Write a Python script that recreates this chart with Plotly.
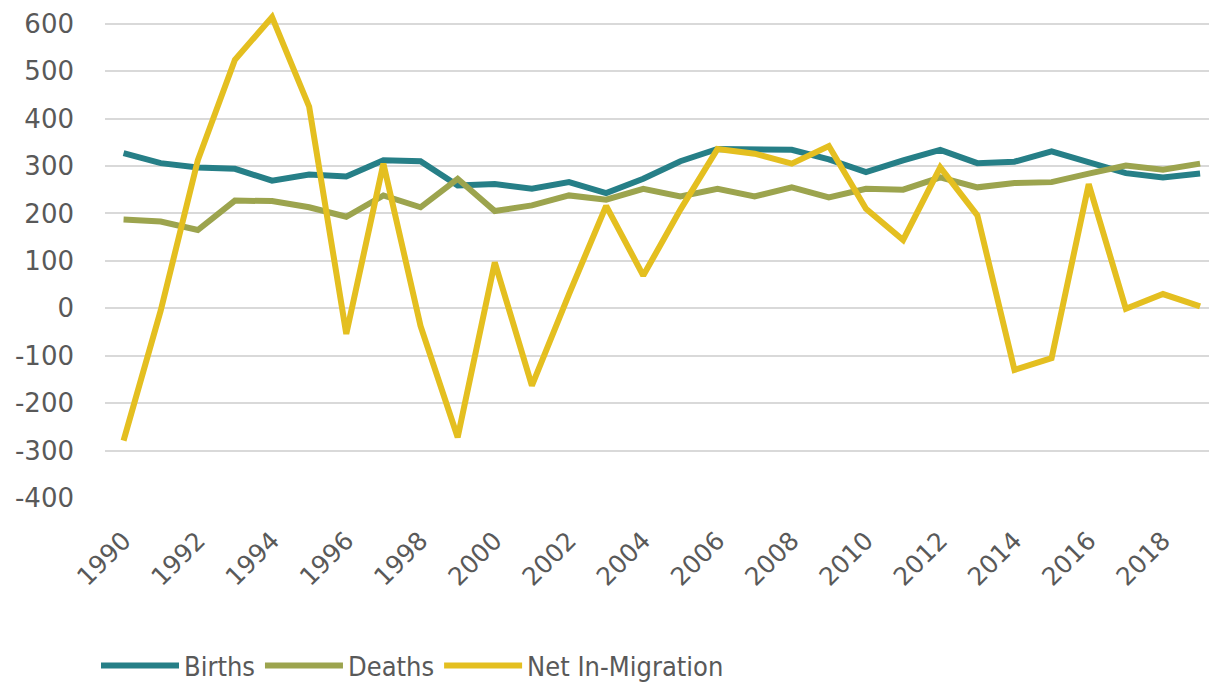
import plotly.graph_objects as go

years = list(range(1990, 2020))
births = [327, 306, 297, 294, 269, 282, 278, 312, 310, 259,
          262, 252, 266, 243, 273, 310, 336, 334, 334, 314,
          287, 312, 334, 306, 309, 331, 308, 285, 276, 284]
deaths = [187, 183, 165, 227, 226, 213, 193, 238, 213, 273,
          205, 217, 238, 229, 252, 236, 252, 236, 255, 234,
          252, 250, 276, 255, 264, 266, 284, 301, 292, 305]
net_migration = [-279, -5, 312, 524, 614, 425, -54, 305, -37, -272,
                 97, -163, 30, 216, 69, 208, 336, 326, 305, 342,
                 210, 144, 297, 196, -130, -105, 262, -1, 30, 4]
series_names = ["Births", "Deaths", "Net In-Migration"]
tick_years = list(range(1990, 2020, 2))
y_ticks = list(range(-400, 700, 100))
y_ticktext = [str(v) for v in y_ticks]  # plain hyphen minus as in reference

FONT = "DejaVu Sans"
LEGEND_FONT = "DejaVu Sans Condensed, DejaVu Sans"
GRAY = "#595959"

fig = go.Figure()
fig.add_trace(go.Scatter(x=years, y=births, mode="lines", name=series_names[0],
                         line=dict(color="#267F87", width=6)))
fig.add_trace(go.Scatter(x=years, y=deaths, mode="lines", name=series_names[1],
                         line=dict(color="#9CA44E", width=6)))
fig.add_trace(go.Scatter(x=years, y=net_migration, mode="lines", name=series_names[2],
                         line=dict(color="#E4BF20", width=6)))

fig.update_layout(
    width=1209, height=683,
    margin=dict(l=105, r=0, t=0, b=185, autoexpand=False),
    plot_bgcolor="white", paper_bgcolor="white",
    font=dict(family=FONT, color=GRAY),
    showlegend=True,
    legend=dict(orientation="h", xref="container", yref="container",
                x=96 / 1209, y=(683 - 666) / 683, xanchor="left", yanchor="middle",
                font=dict(size=27, color=GRAY, family=LEGEND_FONT),
                itemwidth=78,
                bgcolor="rgba(0,0,0,0)"),
    xaxis=dict(range=[1989.5, 2019.24], tickmode="array", tickvals=tick_years,
               ticktext=[str(y) for y in tick_years], tickangle=-45,
               tickfont=dict(size=25, color=GRAY, family=FONT),
               showgrid=False, zeroline=False, showline=False,
               ticks="", ticklabelstandoff=22, automargin=False),
    yaxis=dict(range=[-400, 650], tickmode="array", tickvals=y_ticks,
               ticktext=y_ticktext,
               tickfont=dict(size=26, color=GRAY, family=FONT),
               showgrid=True, gridcolor="#D9D9D9", gridwidth=1.5,
               zeroline=True, zerolinecolor="#D9D9D9", zerolinewidth=1.5,
               showline=False, ticks="", ticklabelstandoff=30, automargin=False),
)

fig.write_html("out.html", config={"displayModeBar": False},
               post_script="document.body.style.margin='0';document.body.style.padding='0';")
